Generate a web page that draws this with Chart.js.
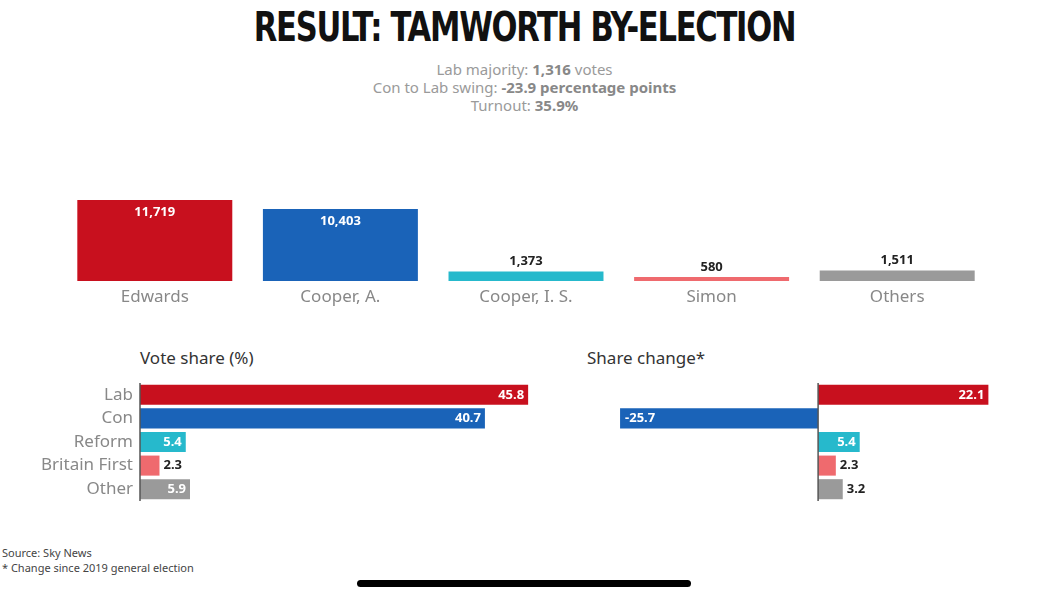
<!DOCTYPE html>
<html><head><meta charset="utf-8">
<script src="https://cdn.jsdelivr.net/npm/chart.js@4"></script>
<style>
body{margin:0;width:1049px;height:600px;background:#fff;position:relative;overflow:hidden;font-family:"Noto Sans",sans-serif}
.abs{position:absolute}
#title{left:0;width:1049px;top:4px;text-align:center;font-family:"DejaVu Sans Condensed","DejaVu Sans";font-weight:bold;font-size:40px;letter-spacing:-1.5px;color:#111;transform:scaleX(0.85)}
.sub{left:0;width:1049px;text-align:center;font-size:15px;color:#9a9a9a}
.sub b{color:#888}
.h{font-size:17px;color:#333}
.src{font-size:11px;color:#444;left:2px}
canvas{position:absolute}
</style></head><body>
<div id="title" class="abs">RESULT: TAMWORTH BY-ELECTION</div>
<div class="abs sub" style="top:59px">Lab majority: <b>1,316</b> votes</div>
<div class="abs sub" style="top:77px">Con to Lab swing: <b>-23.9 percentage points</b></div>
<div class="abs sub" style="top:95px">Turnout: <b>35.9%</b></div>
<div class="abs h" style="left:140px;top:346px">Vote share (%)</div>
<div class="abs h" style="left:587px;top:346px">Share change*</div>
<div class="abs src" style="top:545px">Source: Sky News</div>
<div class="abs src" style="top:560px">* Change since 2019 general election</div>
<div class="abs" style="left:357px;top:580px;width:334px;height:7px;border-radius:4px;background:#000"></div>
<div class="abs" style="left:62px;top:190px;width:928px;height:125px"><canvas id="c1"></canvas></div>
<div class="abs" style="left:0;top:383px;width:560px;height:118px"><canvas id="c2"></canvas></div>
<div class="abs" style="left:560px;top:383px;width:480px;height:118px"><canvas id="c3"></canvas></div>
<script>
const candidates=["Edwards","Cooper, A.","Cooper, I. S.","Simon","Others"];
const votes=[11719,10403,1373,580,1511];
const parties=["Lab","Con","Reform","Britain First","Other"];
const share=[45.8,40.7,5.4,2.3,5.9];
const change=[22.1,-25.7,5.4,2.3,3.2];
const colors=["#c8101e","#1a63b8","#26b9cc","#ef6a6e","#9a9a9a"];

const FONT='"Noto Sans",sans-serif';
function labelsPlugin(kind){return{id:'lbl'+kind,afterDatasetsDraw(chart){
 const ctx=chart.ctx,meta=chart.getDatasetMeta(0),ds=chart.data.datasets[0].data;
 ctx.save();
 meta.data.forEach((el,i)=>{
  const v=ds[i];
  if(kind==='col'){
   ctx.textAlign='center';
   const big=(el.base-el.y)>30;
   ctx.font='bold 13px '+FONT;
   ctx.fillStyle=big?'#fff':'#222';ctx.textBaseline='middle';
   ctx.fillText(v.toLocaleString('en-GB'),el.x,big?el.y+12:el.y-10);
   ctx.font='17px '+FONT;ctx.fillStyle='#888';
   ctx.fillText(chart.data.labels[i],el.x,el.base+16);
  }else{
   ctx.textBaseline='middle';ctx.font='bold 13px '+FONT;
   const w=Math.abs(el.x-el.base);
   const inside=w>35;
   if(v>=0){
     if(inside){ctx.textAlign='right';ctx.fillStyle='#fff';ctx.fillText(v.toFixed(1),el.x-4,el.y);}
     else{ctx.textAlign='left';ctx.fillStyle='#222';ctx.fillText(v.toFixed(1),el.x+4,el.y);}
   }else{ctx.textAlign='left';ctx.fillStyle='#fff';ctx.fillText(v.toFixed(1),el.x+5,el.y);}
   if(kind==='share'){ctx.textAlign='right';ctx.font='17px '+FONT;ctx.fillStyle='#888';ctx.fillText(chart.data.labels[i],133,el.y);}
  }
 });
 if(kind!=='col'){const xs=chart.scales.x.getPixelForValue(0);ctx.strokeStyle='#555';ctx.lineWidth=1.5;ctx.beginPath();ctx.moveTo(xs,chart.chartArea.top);ctx.lineTo(xs,chart.chartArea.bottom);ctx.stroke();}
 ctx.restore();}}}
const common={responsive:true,maintainAspectRatio:false,animation:false,plugins:{legend:{display:false},tooltip:{enabled:false}}};
new Chart(document.getElementById('c1'),{type:'bar',data:{labels:candidates,datasets:[{data:votes,backgroundColor:colors,categoryPercentage:1,barPercentage:0.835}]},
 options:{...common,layout:{padding:{top:10,bottom:34,left:-13,right:-13}},scales:{x:{display:false},y:{display:false,min:0,max:11719}}},plugins:[labelsPlugin('col')]});
new Chart(document.getElementById('c2'),{type:'bar',data:{labels:parties,datasets:[{data:share,backgroundColor:colors,categoryPercentage:1,barPercentage:0.85}]},
 options:{...common,indexAxis:'y',layout:{padding:{left:140,right:20}},scales:{x:{display:false,min:0,max:47.2},y:{display:false}}},plugins:[labelsPlugin('share')]});
new Chart(document.getElementById('c3'),{type:'bar',data:{labels:parties,datasets:[{data:change,backgroundColor:colors,categoryPercentage:1,barPercentage:0.85}]},
 options:{...common,indexAxis:'y',layout:{padding:{left:20,right:10}},scales:{x:{display:false,min:-30.9,max:27.5},y:{display:false}}},plugins:[labelsPlugin('chg')]});
</script></body></html>
